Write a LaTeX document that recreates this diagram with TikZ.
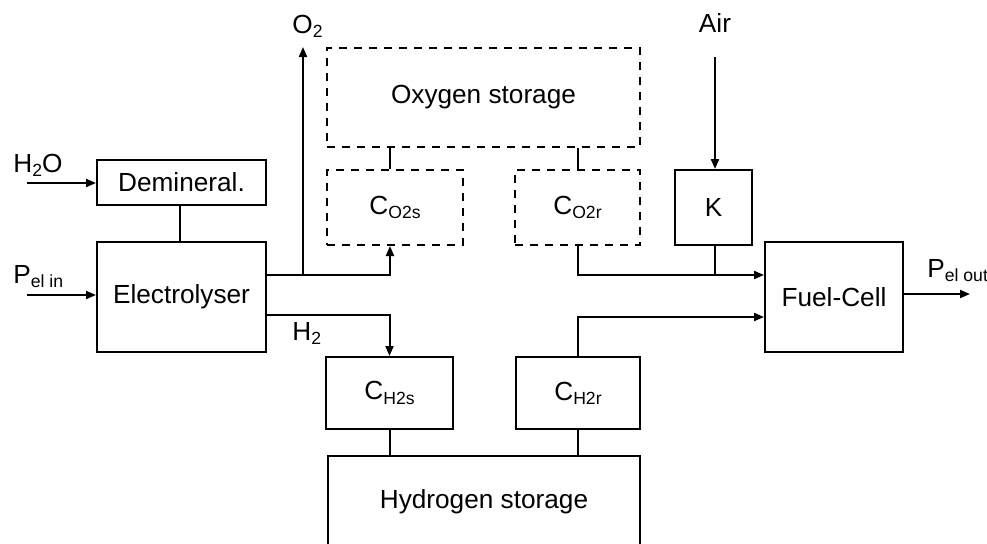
\documentclass[tikz,border=0pt]{standalone}
\usepackage{fontspec}
\setmainfont{Liberation Sans}
\usetikzlibrary{arrows.meta}
\newcommand\lowidx[1]{\raisebox{-0.3ex}{\fontsize{8.8}{10}\selectfont #1}}
\tikzset{
  unit box/.style={draw, line width=1pt, inner sep=0pt, align=center},
  store box/.style={unit box, dash pattern=on 4pt off 3.5pt},
  link/.style={line width=1pt},
  flow/.style={link, -{Triangle[length=5pt,width=4pt]}},
  tag/.style={anchor=base west, inner sep=0pt},
}

\begin{document}
\begin{tikzpicture}[x=0.5pt, y=-0.5pt, every node/.style={font=\fontsize{13.1}{15}\selectfont}]
  \useasboundingbox (0,0) rectangle (987,543);
  \clip (0,0) rectangle (987,543);
  % units
  \node[unit box, minimum width=84.5pt, minimum height=22.5pt] (demin) at (181.5,182.5) {Demineral.};
  \node[unit box, minimum width=84.5pt, minimum height=55pt]   (elec)  at (181.5,297)   {Electrolyser};
  \node[store box, minimum width=156.5pt, minimum height=49.5pt] (o2store) at (483.5,97.5) {Oxygen storage};
  \node[store box, minimum width=68pt, minimum height=37.5pt]   (co2s) at (395,207.5)   {C\lowidx{O2s}};
  \node[store box, minimum width=62.5pt, minimum height=37.5pt] (co2r) at (577.5,207.5) {C\lowidx{O2r}};
  \node[unit box, minimum width=38.5pt, minimum height=37.5pt]  (K)    at (713.5,207.5) {K};
  \node[unit box, minimum width=69pt, minimum height=55pt]      (fc)   at (834,297)     {Fuel-Cell};
  \node[unit box, minimum width=63.5pt, minimum height=36pt]    (ch2s) at (389.5,393)   {C\lowidx{H2s}};
  \node[unit box, minimum width=62pt, minimum height=36pt]      (ch2r) at (578,393)     {C\lowidx{H2r}};
  \node[unit box, minimum width=156pt, minimum height=46pt]     (h2store) at (484,502)  {Hydrogen storage};
  % junctions and free ends
  \coordinate (h2oin) at (27,183);   \coordinate (pin)  at (27,295);
  \coordinate (o2j)   at (303,275);  \coordinate (o2out) at (303,47);
  \coordinate (h2j)   at (303,315);  \coordinate (airin) at (715,57);
  \coordinate (airj)  at (715,275);  \coordinate (h2fc) at (700,317);
  \coordinate (pout)  at (970,294);
  % labels
  \node[tag] (lh2o)  at (13,172)  {H\lowidx{2}O};
  \node[tag] (lpin)  at (13,283)  {P\lowidx{el in}};
  \node[tag] (lo2)   at (292,33)  {O\lowidx{2}};
  \node[tag] (lh2)   at (292,340) {H\lowidx{2}};
  \node[tag] (lpout) at (927,277) {P\lowidx{el out}};
  \node[inner sep=0pt, anchor=base] (lair) at (715,32) {Air};
  % connections
  \draw[flow] (h2oin) -- (h2oin -| demin.west);
  \draw[flow] (pin) -- (pin -| elec.west);
  \draw[link] (demin.south -| 180,0) -- (elec.north -| 180,0);
  \draw[flow] (elec.east |- o2j) -| ([xshift=-2.5pt]co2s.south);
  \draw[flow] (o2j) -- (o2out);
  \draw[flow] (elec.east |- h2j) -| (ch2s.north);
  \draw[link] ([xshift=-2.5pt]co2s.north) -- ([xshift=-2.5pt]co2s.north |- o2store.south);
  \draw[link] (co2r.north) -- (co2r.north |- o2store.south);
  \draw[flow] (co2r.south) |- (fc.west |- airj);
  \draw[flow] (airin) -- (airin |- K.north);
  \draw[link] (K.south -| airj) -- (airj);
  \draw[flow] (ch2r.north) |- (fc.west |- h2fc);
  \draw[link] (ch2s.south) -- (ch2s.south |- h2store.north);
  \draw[link] (ch2r.south) -- (ch2r.south |- h2store.north);
  \draw[flow] (fc.east |- pout) -- (pout);
\end{tikzpicture}
\end{document}
